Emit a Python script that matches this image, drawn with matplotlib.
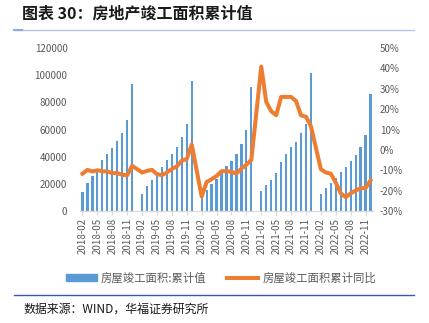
import matplotlib
matplotlib.use("Agg")
from matplotlib import pyplot as plt
from matplotlib.lines import Line2D
from matplotlib.patches import Patch
import numpy as np

plt.rcParams['font.family'] = ['Noto Sans CJK SC', 'DejaVu Sans']

# months: 2018-02 .. 2022-12 (January has no data)
months = ['2018-%02d' % m for m in range(2, 13)]
for yr in range(2019, 2023):
    months += ['%d-%02d' % (yr, m) for m in range(1, 13)]

# 房屋竣工面积:累计值 (万平方米), Feb..Dec per year
area_2018 = [14196, 20900, 25800, 29300, 37500, 42200, 46400, 51500, 57200, 67000, 93550]
area_2019 = [12850, 18600, 22900, 26300, 32600, 37500, 42000, 46900, 54300, 64000, 95940]
area_2020 = [10240, 15560, 19600, 23600, 28600, 33400, 37100, 42000, 49300, 59600, 91220]
area_2021 = [14380, 19120, 22800, 27700, 36300, 42000, 46900, 51000, 57300, 63800, 101410]
area_2022 = [12500, 16700, 20400, 24100, 28600, 32600, 37100, 41300, 46900, 55700, 86220]

# 房屋竣工面积累计同比 (%)
yoy_2018 = [-11.7, -9.8, -10.6, -10.0, -10.5, -10.6, -11.4, -11.4, -12.2, -12.5, -7.8]
yoy_2019 = [-11.1, -10.3, -9.8, -11.9, -12.4, -11.1, -9.4, -8.1, -5.3, -4.5, 2.6]
yoy_2020 = [-22.9, -15.8, -14.4, -12.8, -10.5, -10.4, -10.8, -11.6, -9.2, -7.3, -4.9]
yoy_2021 = [40.9, 23.5, 19.0, 17.0, 26.0, 26.0, 26.0, 24.0, 16.9, 16.3, 11.6]
yoy_2022 = [-9.5, -11.1, -11.7, -16.0, -21.3, -23.3, -21.3, -20.0, -18.8, -18.8, -15.0]

nan = [np.nan]
area = np.array(area_2018 + nan + area_2019 + nan + area_2020 + nan + area_2021 + nan + area_2022, dtype=float)
yoy = np.array(yoy_2018 + nan + yoy_2019 + nan + yoy_2020 + nan + yoy_2021 + nan + yoy_2022, dtype=float)

W, H = 429, 323
fig = plt.figure(figsize=(W / 100, H / 100), dpi=100)
ax = fig.add_axes([80 / W, (H - 211) / H, 293 / W, 163 / H])
ax2 = ax.twinx()

x = np.arange(len(months))
blue = '#5B9BD5'
orange = '#ED7D31'
grey = '#595959'

ax.bar(x, np.nan_to_num(area), width=0.45, color=blue, zorder=2)
ok = ~np.isnan(yoy)
ax2.plot(x[ok], yoy[ok], color=orange, lw=2.9, solid_joinstyle='round', zorder=3)

ax.set_xlim(-0.5, len(months) - 0.5)
ax.set_ylim(0, 120000)
ax.set_yticks(range(0, 120001, 20000))
ax2.set_ylim(-30, 50)
ax2.set_yticks(range(-30, 51, 10))
ax2.set_yticklabels(['%d%%' % v for v in range(-30, 51, 10)])

ticks = x[::3]
ax.set_xticks(ticks)
ax.set_xticklabels([months[i] for i in ticks], rotation=90)

for a in (ax, ax2):
    for s in ('top', 'left', 'right'):
        a.spines[s].set_visible(False)
    a.spines['bottom'].set_color('#D9D9D9')
    a.tick_params(axis='y', length=0, labelsize=7, labelcolor=grey)
ax.tick_params(axis='y', pad=9)
ax.tick_params(axis='x', length=3, color='#D9D9D9', labelsize=7, labelcolor=grey, pad=2)
ax2.tick_params(axis='y', pad=5)

# legend
handles = [Patch(color=blue), Line2D([0], [0], color=orange, lw=2.9)]
fig.legend(handles, ['房屋竣工面积:累计值', '房屋竣工面积累计同比'],
           loc='center', bbox_to_anchor=(221 / W, (H - 278) / H), ncol=2, frameon=False,
           fontsize=8.2, labelcolor=grey, handlelength=2.7, handleheight=0.5,
           columnspacing=1.8, handletextpad=0.4)

# title and rules
fig.text(22 / W, 1 - 14 / H, '图表 30：房地产竣工面积累计值', fontsize=11.5, fontweight='bold',
         va='center', ha='left', color='#1a1a1a')
fig.add_artist(Line2D([14 / W, 414 / W], [1 - 30 / H] * 2, color='#B4C7E7', lw=1))
fig.add_artist(Line2D([14 / W, 22 / W], [1 - 30 / H] * 2, color='#8FAADC', lw=1.5))
fig.add_artist(Line2D([14 / W, 414 / W], [1 - 295 / H] * 2, color='#2E5FA8', lw=1))
fig.text(24 / W, 1 - 309 / H, '数据来源：WIND，华福证券研究所', fontsize=8.6,
         va='center', ha='left', color='#1a1a1a')

fig.savefig('out.png', dpi=100)
